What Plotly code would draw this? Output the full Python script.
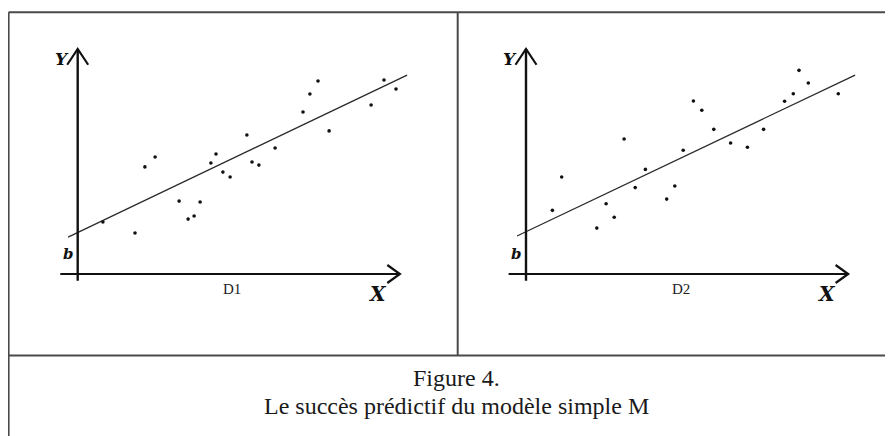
import plotly.graph_objects as go

# ---------------- data (axis units: X to the right of the Y axis, Y above the X axis)
d1_x = [0.84, 1.91, 2.24, 2.58, 3.38, 3.68, 3.88, 4.08, 4.44, 4.61, 4.84, 5.08,
        5.64, 5.81, 6.04, 6.58, 7.51, 7.74, 8.01, 8.38, 9.78, 10.21, 10.61]
d1_y = [2.31, 1.82, 4.76, 5.20, 3.24, 2.44, 2.58, 3.20, 4.93, 5.33, 4.53, 4.31,
        6.18, 4.98, 4.84, 5.60, 7.20, 8.00, 8.58, 6.36, 7.51, 8.62, 8.22]
d1_line_x = [-0.32, 10.98]
d1_line_y = [1.64, 8.84]

d2_x = [0.88, 1.19, 2.36, 2.67, 2.94, 3.27, 3.64, 3.98, 4.69, 4.96, 5.24,
        5.58, 5.86, 6.26, 6.82, 7.38, 7.92, 8.62, 8.91, 9.10, 9.41, 10.41]
d2_y = [2.83, 4.31, 2.04, 3.12, 2.52, 6.00, 3.84, 4.65, 3.33, 3.91, 5.50,
        7.69, 7.28, 6.43, 5.82, 5.63, 6.43, 7.68, 8.01, 9.05, 8.49, 8.01]
d2_line_x = [-0.30, 10.97]
d2_line_y = [1.69, 8.84]

panel_names = ["D1", "D2"]
caption_lines = ["Figure 4.", "Le succès prédictif du modèle simple M"]

# ---------------- layout geometry (page pixels; the page body has an 8px margin)
OFF = 8
W, H = 893 - OFF, 436 - OFF
PX_X = 30.0     # pixels per X unit
PX_Y = 22.5     # pixels per Y unit
ORIGINS = [(77.7 - OFF, 274.0 - OFF), (526.0 - OFF, 274.0 - OFF)]
DOMAINS = [(0.0, 446.5 - OFF), (446.5 - OFF, W)]

INK = "#111111"
FRAME = "#4a4a4a"

fig = go.Figure()

panels = [(d1_x, d1_y, d1_line_x, d1_line_y), (d2_x, d2_y, d2_line_x, d2_line_y)]
shapes = []
annotations = []

for i, ((px, py, lx, ly), (ox, oy), (d0, d1)) in enumerate(zip(panels, ORIGINS, DOMAINS)):
    sfx = "" if i == 0 else str(i + 1)
    xr, yr = "x" + sfx, "y" + sfx
    fig.add_trace(go.Scatter(x=lx, y=ly, mode="lines", xaxis=xr, yaxis=yr,
                             line=dict(color="#2a2a2a", width=1.3),
                             hoverinfo="skip", showlegend=False))
    fig.add_trace(go.Scatter(x=px, y=py, mode="markers", xaxis=xr, yaxis=yr,
                             marker=dict(color=INK, size=3.6),
                             showlegend=False))
    xrange_ = [(d0 - ox) / PX_X, (d1 - ox) / PX_X]
    yrange_ = [(oy - H) / PX_Y, oy / PX_Y]
    ax = dict(range=xrange_, domain=[d0 / W, d1 / W], visible=False, fixedrange=True)
    ay = dict(range=yrange_, domain=[0, 1], visible=False, fixedrange=True)
    if i == 0:
        fig.update_layout(xaxis=ax, yaxis=ay)
    else:
        ax["anchor"] = yr
        ay["anchor"] = xr
        fig.update_layout(**{"xaxis" + sfx: ax, "yaxis" + sfx: ay})

    # axes with open arrowheads
    y_top, y_bot = 10.0, -0.3
    x_left, x_tip = -0.58, 10.74
    shapes.append(dict(type="line", xref=xr, yref=yr, x0=0, x1=0, y0=y_bot, y1=y_top,
                       line=dict(color=INK, width=2.4)))
    shapes.append(dict(type="line", xref=xr, yref=yr, x0=x_left, x1=x_tip, y0=0, y1=0,
                       line=dict(color=INK, width=2.2)))
    ah_x, ah_y = 0.35, 0.70
    shapes.append(dict(type="path", xref=xr, yref=yr,
                       path=f"M {-ah_x},{y_top - ah_y} L 0,{y_top} L {ah_x},{y_top - ah_y}",
                       line=dict(color=INK, width=2.2)))
    bx, by = 0.42, 0.40
    shapes.append(dict(type="path", xref=xr, yref=yr,
                       path=f"M {x_tip - bx},{by} L {x_tip},0 L {x_tip - bx},{-by}",
                       line=dict(color=INK, width=2.2)))

    lab = dict(xref=xr, yref=yr, showarrow=False)
    annotations.append(dict(lab, x=-0.52, y=9.55, text="<b><i>Y</i></b>",
                            font=dict(family="DejaVu Serif", size=17, color=INK)))
    annotations.append(dict(lab, x=-0.31, y=0.89, text="<b><i>b</i></b>",
                            font=dict(family="DejaVu Serif", size=15, color=INK)))
    annotations.append(dict(lab, x=10.0, y=-0.87, text="<b><i>X</i></b>",
                            font=dict(family="DejaVu Serif", size=20, color=INK)))
    annotations.append(dict(lab, x=5.15, y=-0.67, text=panel_names[i],
                            font=dict(family="Liberation Serif", size=15, color="#222")))

# frame lines (paper coordinates from page pixels)
def px2p(x):
    return (x - OFF) / W

def py2p(y):
    return 1 - (y - OFF) / H

frame = [
    (8.6, 12.3, 8.6, 440),        # left border
    (8.6, 12.3, 900, 12.3),       # top border
    (457.7, 12.3, 457.7, 355.5),  # divider
    (8.6, 355.5, 900, 355.5),     # caption separator
]
for x0, y0, x1, y1 in frame:
    shapes.append(dict(type="line", xref="paper", yref="paper",
                       x0=px2p(x0), y0=py2p(y0), x1=px2p(x1), y1=py2p(y1),
                       line=dict(color=FRAME, width=2)))

for txt, ypx in zip(caption_lines, [378, 406]):
    annotations.append(dict(xref="paper", yref="paper", x=px2p(456), y=py2p(ypx),
                            text=txt, showarrow=False, xanchor="center", yanchor="middle",
                            font=dict(family="Liberation Serif", size=24, color="#1a1a1a")))

fig.update_layout(width=W, height=H, margin=dict(l=0, r=0, t=0, b=0),
                  paper_bgcolor="white", plot_bgcolor="white",
                  shapes=shapes, annotations=annotations, showlegend=False)

fig.write_html("out.html")
